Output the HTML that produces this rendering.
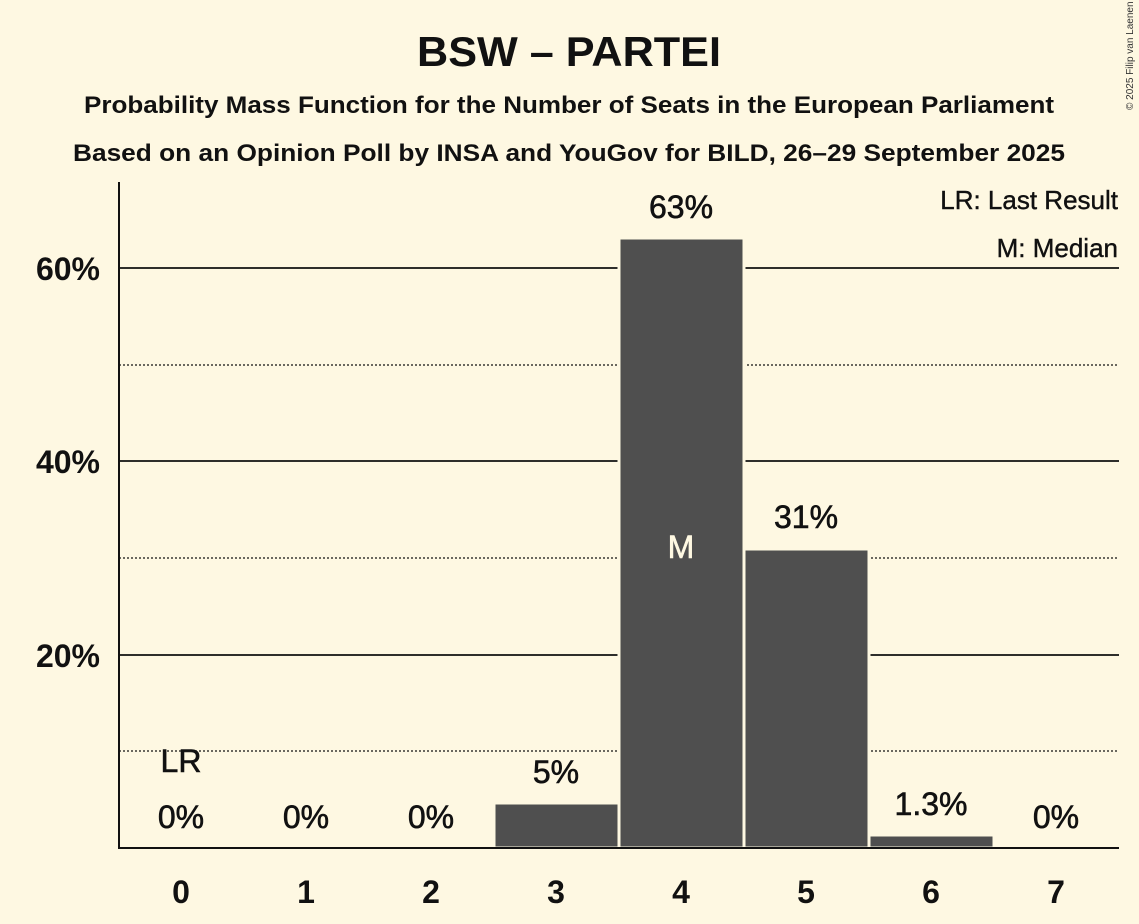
<!DOCTYPE html>
<html><head><meta charset="utf-8"><style>
body{margin:0;background:#fef8e2;}
svg{display:block;font-family:"Liberation Sans",sans-serif;}
</style></head><body>
<svg width="1139" height="924" viewBox="0 0 1139 924">
<rect width="1139" height="924" fill="#fef8e2"/>
<text x="569" y="66" text-anchor="middle" font-size="42" font-weight="bold" fill="#111" textLength="304" lengthAdjust="spacingAndGlyphs">BSW – PARTEI</text>
<text x="569" y="113" text-anchor="middle" font-size="24" font-weight="bold" fill="#111" textLength="970" lengthAdjust="spacingAndGlyphs">Probability Mass Function for the Number of Seats in the European Parliament</text>
<text x="569" y="161" text-anchor="middle" font-size="24" font-weight="bold" fill="#111" textLength="992" lengthAdjust="spacingAndGlyphs">Based on an Opinion Poll by INSA and YouGov for BILD, 26–29 September 2025</text>
<text x="1133" y="110" font-size="10" fill="#333" transform="rotate(-90 1133 110)">© 2025 Filip van Laenen</text>
<g stroke="#111" stroke-width="1.2" stroke-dasharray="2,2">
<line x1="119" y1="751" x2="1119" y2="751"/><line x1="119" y1="558" x2="1119" y2="558"/><line x1="119" y1="365" x2="1119" y2="365"/>
</g>
<g stroke="#111" stroke-width="1.8">
<line x1="119" y1="655" x2="1119" y2="655"/><line x1="119" y1="461" x2="1119" y2="461"/><line x1="119" y1="268" x2="1119" y2="268"/>
</g>
<g fill="#4f4f4f" stroke="#fef8e2" stroke-width="3">
<rect x="494" y="803" width="125" height="45"/>
<rect x="619" y="238" width="125" height="610"/>
<rect x="744" y="549" width="125" height="299"/>
<rect x="869" y="835" width="125" height="13"/>
</g>
<line x1="119" y1="182" x2="119" y2="849" stroke="#111" stroke-width="2"/>
<line x1="118" y1="848" x2="1119" y2="848" stroke="#111" stroke-width="2"/>
<g font-size="32" font-weight="bold" fill="#111" text-anchor="end">
<text x="100" y="280">60%</text><text x="100" y="473">40%</text><text x="100" y="667">20%</text>
</g>
<g font-size="32" font-weight="bold" fill="#111" text-anchor="middle">
<text x="181" y="903">0</text><text x="306" y="903">1</text><text x="431" y="903">2</text><text x="556" y="903">3</text><text x="681" y="903">4</text><text x="806" y="903">5</text><text x="931" y="903">6</text><text x="1056" y="903">7</text>
</g>
<g font-size="32" fill="#111" text-anchor="middle" stroke="#111" stroke-width="0.6">
<text x="181" y="828">0%</text><text x="306" y="828">0%</text><text x="431" y="828">0%</text><text x="556" y="783">5%</text><text x="681" y="218">63%</text><text x="806" y="528">31%</text><text x="931" y="815">1.3%</text><text x="1056" y="828">0%</text>
<text x="181" y="772">LR</text>
<text x="681" y="558" fill="#fef8e2" stroke="#fef8e2">M</text>
</g>
<g font-size="26" fill="#111" text-anchor="end" stroke="#111" stroke-width="0.4">
<text x="1118" y="209">LR: Last Result</text><text x="1118" y="257">M: Median</text>
</g>
</svg>
</body></html>
